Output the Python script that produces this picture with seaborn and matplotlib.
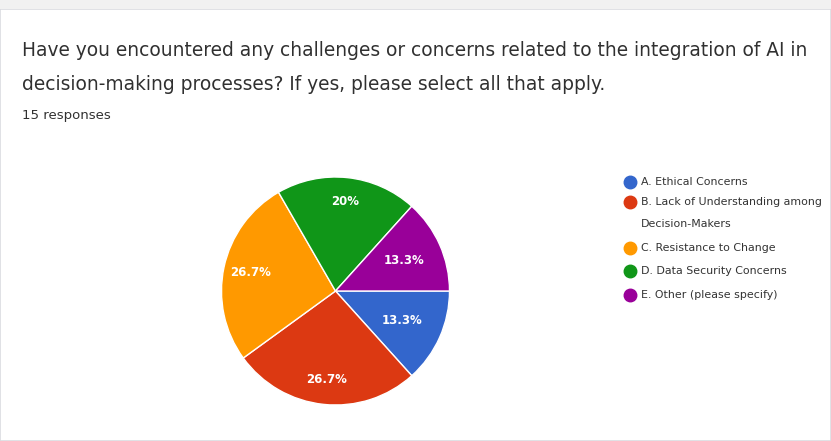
import matplotlib
matplotlib.use("Agg")
import matplotlib.pyplot as plt
import seaborn as sns
from matplotlib.lines import Line2D
from matplotlib.patches import Rectangle

sns.set_theme(style="white")
plt.rcParams['font.family'] = ['DejaVu Sans']

categories = [
    "A. Ethical Concerns",
    "B. Lack of Understanding among",
    "C. Resistance to Change",
    "D. Data Security Concerns",
    "E. Other (please specify)",
]
category_continuation = {1: "Decision-Makers"}
counts = [2, 4, 4, 3, 2]
colors = sns.color_palette(["#3366CC", "#DC3912", "#FF9900", "#109618", "#990099"])
title_lines = ["Have you encountered any challenges or concerns related to the integration of AI in",
               "decision-making processes? If yes, please select all that apply."]
responses_text = "15 responses"

W, H = 831, 441
fig = plt.figure(figsize=(W / 100, H / 100), dpi=100)
fig.patch.set_facecolor("white")

# card borders
fig.add_artist(Rectangle((0, 0), 1, 1 - 9 / H, transform=fig.transFigure,
                         fill=False, edgecolor="#dadce0", linewidth=1.2))
fig.add_artist(Rectangle((0, 1 - 9 / H), 1, 9 / H, transform=fig.transFigure,
                         facecolor="#f1f1f1", edgecolor="none"))

fig.text(22 / W, 1 - 50 / H, title_lines[0], fontsize=13.4, color="#303030", va="center")
fig.text(22 / W, 1 - 85 / H, title_lines[1], fontsize=13.4, color="#303030", va="center")
fig.text(22 / W, 1 - 116 / H, responses_text, fontsize=9.5, color="#303030", va="center")

cx, cy, r = 335.5, 291, 114
ax = fig.add_axes([(cx - r) / W, (H - cy - r) / H, 2 * r / W, 2 * r / H])
wedges, texts, autotexts = ax.pie(
    counts, colors=colors, startangle=0, counterclock=False,
    autopct=lambda p: f"{p:.1f}%".replace(".0%", "%"), pctdistance=0.72,
    wedgeprops=dict(edgecolor="white", linewidth=1), radius=1.0,
    textprops=dict(color="white", fontsize=8.5, fontweight="bold"))
label_dist = [0.64, 0.78, 0.76, 0.79, 0.66]
for t, d in zip(autotexts, label_dist):
    x, y = t.get_position()
    s = d / 0.72
    t.set_position((x * s, y * s))
ax.set_aspect("equal")
ax.set_xlim(-1, 1)
ax.set_ylim(-1, 1)
ax.axis("off")

# legend drawn as marker + text rows
legend_y = [182, 202, 248, 271, 295]
for i, (lab, c, yy) in enumerate(zip(categories, colors, legend_y)):
    fig.add_artist(Line2D([630 / W], [1 - yy / H], marker="o", markersize=9,
                          markerfacecolor=c, markeredgecolor=c, linestyle="none",
                          transform=fig.transFigure))
    fig.text(641 / W, 1 - yy / H, lab, fontsize=7.9, color="#333333", va="center")
    if i in category_continuation:
        fig.text(641 / W, 1 - (yy + 22) / H, category_continuation[i],
                 fontsize=7.9, color="#333333", va="center")

fig.savefig("out.png", dpi=100)
